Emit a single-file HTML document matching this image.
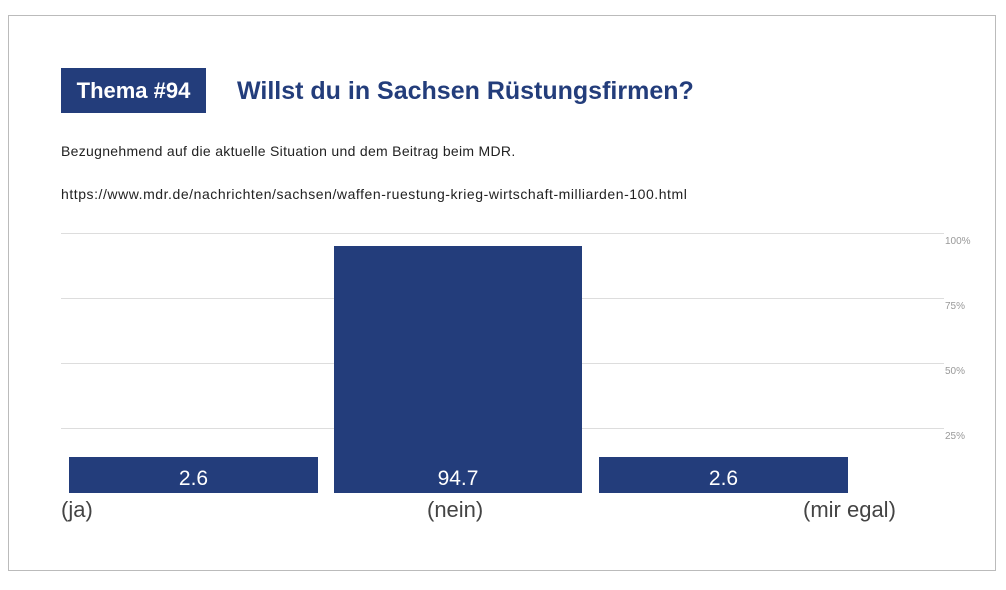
<!DOCTYPE html>
<html><head><meta charset="utf-8"><style>
body{margin:0;width:1006px;height:590px;background:#fff;font-family:"Liberation Sans",sans-serif;position:relative;overflow:hidden}
.a{position:absolute}
.frame{left:8px;top:15px;width:988px;height:556px;border:1px solid #bbb;box-sizing:border-box}
.tag{left:61px;top:68px;width:145px;height:45px;background:#233d7b;color:#fff;font-weight:bold;font-size:22px;line-height:45px;text-align:center}
.title{left:237px;top:74px;color:#233d7b;font-weight:bold;font-size:25px;line-height:34px}
.sub{left:61px;font-size:14px;color:#222;white-space:nowrap}
.g{left:61px;width:883px;height:1px;background:#ddd}
.yl{left:945px;font-size:10px;color:#999}
.bar{background:#233d7b;color:#fff;font-size:21px;text-align:center}
.cl{font-size:22px;color:#444;top:497px}
</style></head><body>
<div class="a frame"></div>
<div class="a tag">Thema #94</div>
<div class="a title">Willst du in Sachsen Rüstungsfirmen?</div>
<div class="a sub" style="top:143px;letter-spacing:0.3px">Bezugnehmend auf die aktuelle Situation und dem Beitrag beim MDR.</div>
<div class="a sub" style="top:186px;letter-spacing:0.55px">https://www.mdr.de/nachrichten/sachsen/waffen-ruestung-krieg-wirtschaft-milliarden-100.html</div>
<div class="a g" style="top:233px"></div><div class="a yl" style="top:236px">100%</div>
<div class="a g" style="top:298px"></div><div class="a yl" style="top:301px">75%</div>
<div class="a g" style="top:363px"></div><div class="a yl" style="top:366px">50%</div>
<div class="a g" style="top:428px"></div><div class="a yl" style="top:431px">25%</div>
<div class="a bar" style="left:69px;top:457px;width:249px;height:36px;line-height:44px">2.6</div>
<div class="a bar" style="left:334px;top:246px;width:248px;height:247px"><div style="position:absolute;left:0;right:0;top:211px;line-height:44px">94.7</div></div>
<div class="a bar" style="left:599px;top:457px;width:249px;height:36px;line-height:44px">2.6</div>
<div class="a cl" style="left:61px">(ja)</div>
<div class="a cl" style="left:427px">(nein)</div>
<div class="a cl" style="left:803px">(mir egal)</div>
</body></html>
